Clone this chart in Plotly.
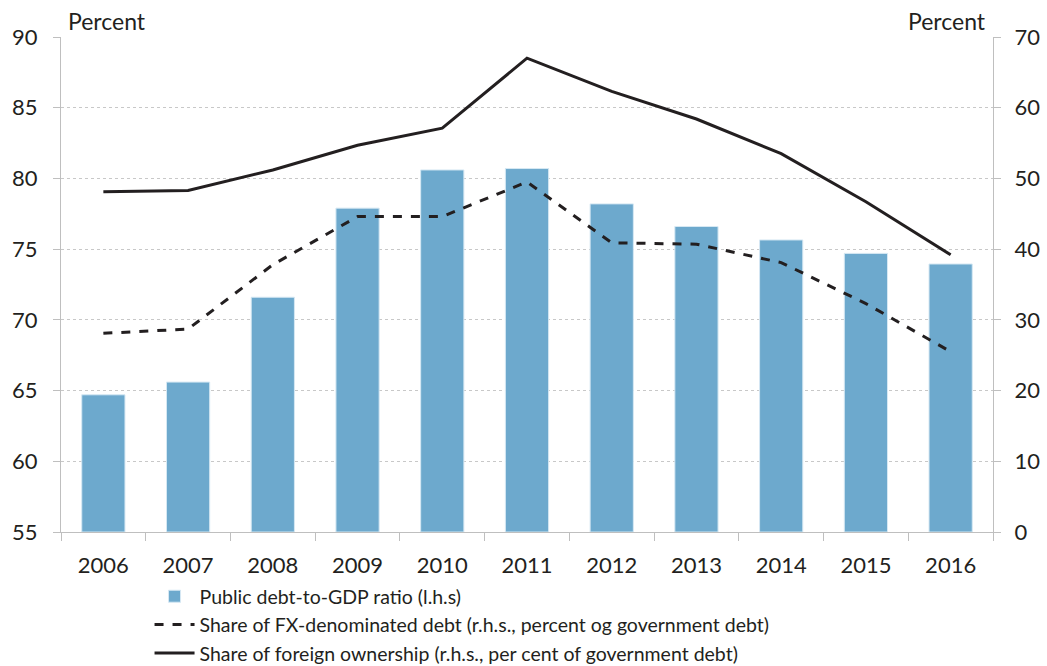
import plotly.graph_objects as go

years = ["2006", "2007", "2008", "2009", "2010", "2011", "2012", "2013", "2014", "2015", "2016"]
debt_gdp = [64.7, 65.6, 71.6, 77.9, 80.6, 80.7, 78.2, 76.6, 75.65, 74.7, 73.95]
fx_share = [28.1, 28.7, 37.8, 44.6, 44.6, 49.5, 40.9, 40.7, 38.1, 32.3, 25.5]
foreign_share = [48.1, 48.3, 51.2, 54.7, 57.1, 67.0, 62.3, 58.4, 53.5, 46.7, 39.2]

left_ticks = [55, 60, 65, 70, 75, 80, 85, 90]
right_ticks = [0, 10, 20, 30, 40, 50, 60, 70]

FONT = "Lato, 'Open Sans', sans-serif"
TXT = "#231f20"
AX = "#bfbfbf"

fig = go.Figure()
fig.add_trace(go.Bar(
    x=years, y=[v - 55 for v in debt_gdp], base=55,
    name="Public debt-to-GDP ratio (l.h.s)",
    marker=dict(color="#6da9cd", line=dict(color="#d6e8f3", width=1)),
    width=0.51, yaxis="y",
    hovertext=[str(v) for v in debt_gdp],
))
fig.add_trace(go.Scatter(
    x=years, y=fx_share, mode="lines", yaxis="y2",
    name="Share of FX-denominated debt (r.h.s., percent og government debt)",
    line=dict(color=TXT, width=3, dash="dash"),
))
fig.add_trace(go.Scatter(
    x=years, y=foreign_share, mode="lines", yaxis="y2",
    name="Share of foreign ownership (r.h.s., per cent of government debt)",
    line=dict(color=TXT, width=3),
))

fig.update_layout(
    width=1047, height=666,
    margin=dict(l=61, r=54, t=37, b=134, autoexpand=False),
    paper_bgcolor="white", plot_bgcolor="white",
    font=dict(family=FONT, size=22, color=TXT),
    showlegend=True,
    legend=dict(orientation="v", x=0.095, xanchor="left", y=-0.091, yanchor="top",
                font=dict(size=19.5, color=TXT), tracegroupgap=0,
                bgcolor="rgba(0,0,0,0)", itemwidth=40),
    xaxis=dict(type="category", showgrid=False, showline=True, linecolor=AX, linewidth=1,
               ticks="outside", tickson="boundaries", ticklen=8, tickcolor=AX,
               ticklabelstandoff=14, tickfont=dict(size=22, color=TXT)),
    yaxis=dict(range=[55, 90], tickvals=left_ticks, showgrid=True, gridcolor="#c8c8c8",
               griddash="dot", gridwidth=1, showline=True, linecolor=AX, linewidth=1,
               ticks="outside", ticklen=7, tickcolor=AX, zeroline=False,
               ticklabelstandoff=11, tickfont=dict(size=22, color=TXT)),
    yaxis2=dict(range=[0, 70], tickvals=right_ticks, overlaying="y", side="right",
                showgrid=False, showline=True, linecolor=AX, linewidth=1,
                ticks="outside", ticklen=7, tickcolor=AX, zeroline=False,
                ticklabelstandoff=9, tickfont=dict(size=22, color=TXT)),
    annotations=[
        dict(text="Percent", xref="paper", yref="paper", x=0.005, y=1.0, xanchor="left",
             yanchor="bottom", showarrow=False, font=dict(size=23, color=TXT)),
        dict(text="Percent", xref="paper", yref="paper", x=0.995, y=1.0, xanchor="right",
             yanchor="bottom", showarrow=False, font=dict(size=23, color=TXT)),
    ],
)

fig.write_html(
    "out.html",
    config={"displayModeBar": False},
    post_script="document.body.style.margin='0';document.body.style.overflow='hidden';",
)
